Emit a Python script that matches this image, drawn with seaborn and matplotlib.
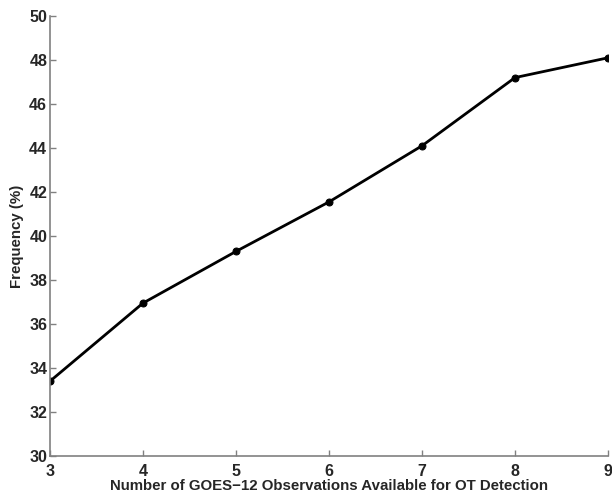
import matplotlib
matplotlib.use("Agg")
import matplotlib.pyplot as plt
import seaborn as sns
import pandas as pd

observations = [3, 4, 5, 6, 7, 8, 9]
frequency = [33.4, 36.95, 39.3, 41.55, 44.1, 47.2, 48.1]
yticks = [30, 32, 34, 36, 38, 40, 42, 44, 46, 48, 50]
xticks = [3, 4, 5, 6, 7, 8, 9]

sns.set_style("white")
plt.rcParams['font.family'] = ['Liberation Sans', 'DejaVu Sans']

df = pd.DataFrame({"obs": observations, "freq": frequency})

fig = plt.figure(figsize=(6.12, 4.94), dpi=100)
ax = fig.add_axes([50/612, 1-456/494, 558/612, 440/494])
sns.lineplot(data=df, x="obs", y="freq", ax=ax, color="black", linewidth=2,
             marker="o", markersize=5, markeredgecolor="black")

ax.set_xlim(3, 9)
ax.set_ylim(30, 50)
ax.set_xticks(xticks)
ax.set_yticks(yticks)
for s in ["top", "right"]:
    ax.spines[s].set_visible(False)
for s in ["left", "bottom"]:
    ax.spines[s].set_color("#808080")
    ax.spines[s].set_linewidth(1.2)
ax.tick_params(direction="in", length=4, width=1, color="#808080",
               labelsize=11.5, bottom=True, left=True)
ax.tick_params(axis="x", pad=6)
ax.tick_params(axis="y", pad=2)
for lab in ax.get_xticklabels() + ax.get_yticklabels():
    lab.set_fontweight("bold")
ax.set_xlabel("Number of GOES\u221212 Observations Available for OT Detection",
              fontsize=10.8, fontweight="bold", labelpad=0)
ax.set_ylabel("Frequency (%)", fontsize=10.8, fontweight="bold", labelpad=4)
ax.grid(False)

fig.savefig("out.png", dpi=100)
